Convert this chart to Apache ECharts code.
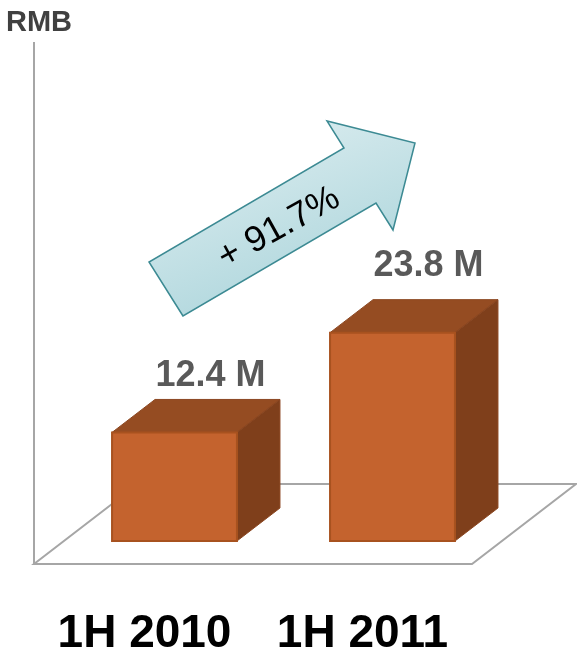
<!DOCTYPE html>
<html><head><meta charset="utf-8">
<script src="https://cdn.jsdelivr.net/npm/echarts@6/dist/echarts.min.js"></script>
<style>html,body{margin:0;padding:0;background:#fff}#c{width:577px;height:662px}</style>
</head><body><div id="c"></div>
<script>
// ---- data ----
const categories = ['1H 2010', '1H 2011'];
const values = [12.4, 23.8];
const unitLabel = 'RMB';
const growthLabel = '+ 91.7%';
const valueLabels = values.map(v => v.toFixed(1) + ' M');

// ---- styling ----
const FONT = '"Liberation Sans", Arial, Helvetica, sans-serif';
const DX = 43, DY = 33;           // 3D depth offsets
const labelLift = [56, 67];       // label centre above bar front-top

const chart = echarts.init(document.getElementById('c'), null, { renderer: 'canvas' });

function renderFloor(params, api) {
  const cs = params.coordSys;
  const left = cs.x - 31.5;              // axis line x
  const front = cs.y + cs.height + 23;   // floor front edge
  const back = front - 80;               // floor back edge
  const frontRight = cs.x + cs.width - 29.5;
  const backRight = frontRight + 104;
  const backLeft = left + 104;
  const st = { stroke: '#a6a6a6', lineWidth: 2, fill: null };
  return {
    type: 'group',
    children: [
      { type: 'polyline', shape: { points: [[backLeft, back], [backRight, back], [frontRight, front], [left, front], [backLeft, back]] }, style: st },
      { type: 'line', shape: { x1: left, y1: cs.y, x2: left, y2: front }, style: st }
    ]
  };
}

function renderBar(params, api) {
  const i = params.dataIndex;
  const top = api.coord([api.value(0), api.value(1)]);
  const base = api.coord([api.value(0), 0]);
  const bw = api.size([1, 0])[0] * 0.573;
  const x0 = top[0] - bw / 2, x1 = top[0] + bw / 2;
  const yT = top[1], yB = base[1];
  return {
    type: 'group',
    children: [
      { type: 'polygon', shape: { points: [[x0, yT], [x1, yT], [x1 + DX, yT - DY], [x0 + DX, yT - DY]] },
        style: { fill: '#954c22', stroke: '#8b4620', lineWidth: 1 } },
      { type: 'polygon', shape: { points: [[x1, yT], [x1 + DX, yT - DY], [x1 + DX, yB - DY], [x1, yB]] },
        style: { fill: '#7f3f1b', stroke: '#8b4620', lineWidth: 1 } },
      { type: 'rect', shape: { x: x0, y: yT, width: bw, height: yB - yT },
        style: { fill: '#c4632e', stroke: '#a8521f', lineWidth: 2 } },
      { type: 'text', x: top[0] + 36, y: yT - labelLift[i],
        style: { text: valueLabels[i], font: 'bold 36px ' + FONT, fill: '#595959', align: 'center', verticalAlign: 'middle' } }
    ]
  };
}

const option = {
  backgroundColor: '#ffffff',
  animation: false,
  grid: { left: 65.5, top: 42, width: 436, height: 499 },
  xAxis: {
    type: 'category',
    data: categories,
    axisLine: { show: false },
    axisTick: { show: false },
    axisLabel: {
      interval: 0,
      hideOverlap: false,
      margin: 70.5,
      color: '#000000',
      fontFamily: FONT,
      fontWeight: 'bold',
      fontSize: 46,
      padding: [0, 60, 0, 0]
    }
  },
  yAxis: {
    type: 'value',
    min: 0,
    max: 57,
    offset: 31.5,
    name: unitLabel,
    nameLocation: 'end',
    nameGap: 19.5,
    nameTextStyle: { color: '#404040', fontFamily: FONT, fontWeight: 'bold', fontSize: 29, verticalAlign: 'middle', align: 'center', padding: [0, 0, 0, 10] },
    axisLine: { show: false },
    axisTick: { show: false },
    axisLabel: { show: false },
    splitLine: { show: false }
  },
  series: [
    { type: 'custom', name: 'floor', renderItem: renderFloor, data: [[0, 0]], silent: true, z: 1 },
    { type: 'custom', name: 'revenue', renderItem: renderBar, data: values.map((v, i) => [i, v]), z: 2 }
  ],
  graphic: [
    {
      type: 'polygon',
      z: 10,
      shape: { points: [[183, 316], [149, 262], [344, 148], [327, 121], [415, 143], [393, 230], [376, 203]] },
      style: {
        fill: { type: 'linear', x: 0, y: 0, x2: 0.3, y2: 1, colorStops: [{ offset: 0, color: '#e4f1f3' }, { offset: 1, color: '#b2d8de' }] },
        stroke: '#3c8a93', lineWidth: 1.5
      }
    },
    {
      type: 'text', z: 11, x: 279, y: 228, rotation: 29 * Math.PI / 180,
      style: { text: growthLabel, font: '36px ' + FONT, fill: '#000000', align: 'center', verticalAlign: 'middle' }
    }
  ]
};
chart.setOption(option);
</script>
</body></html>
